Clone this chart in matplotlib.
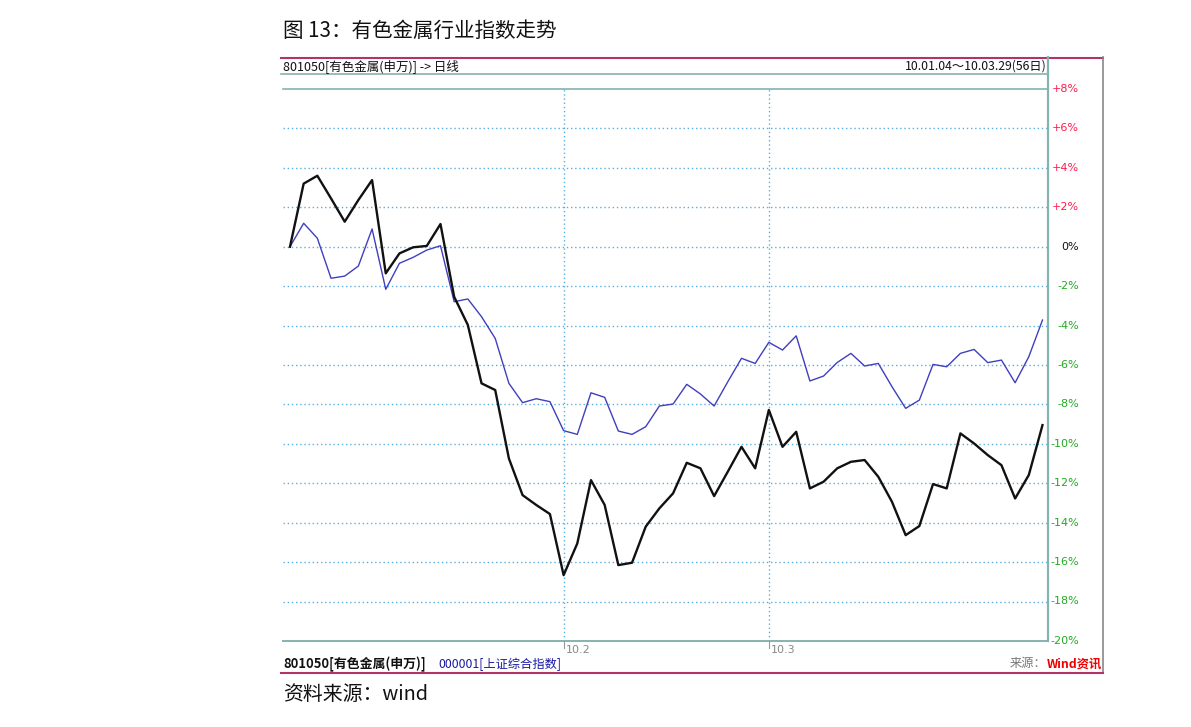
import matplotlib
matplotlib.use("Agg")
import matplotlib.pyplot as plt
from matplotlib.lines import Line2D
import numpy as np

plt.rcParams['font.family'] = ['Noto Sans CJK SC', 'DejaVu Sans']

W, H = 1191, 727

# Data: daily cumulative % change, 2010-01-04 .. 2010-03-29 (56 trading days)
nonferrous = [0.0, 3.2, 3.6, 2.45, 1.27, 2.37, 3.38, -1.35, -0.34, -0.03,
              0.04, 1.15, -2.54, -3.97, -6.93, -7.27, -10.74, -12.6, -13.1, -13.56,
              -16.66, -15.05, -11.84, -13.1, -16.15, -16.03, -14.2, -13.27, -12.51, -10.96,
              -11.24, -12.65, -11.41, -10.15, -11.24, -8.28, -10.15, -9.39, -12.26, -11.92,
              -11.24, -10.91, -10.82, -11.67, -12.94, -14.63, -14.17, -12.04, -12.26, -9.47,
              -9.98, -10.57, -11.08, -12.77, -11.58, -9.05]
shanghai = [0.0, 1.19, 0.43, -1.6, -1.49, -0.98, 0.9, -2.16, -0.84, -0.54,
            -0.17, 0.05, -2.79, -2.65, -3.55, -4.65, -6.93, -7.91, -7.71, -7.86,
            -9.33, -9.52, -7.41, -7.64, -9.35, -9.52, -9.13, -8.08, -7.98, -6.98,
            -7.47, -8.08, -6.85, -5.66, -5.92, -4.85, -5.24, -4.52, -6.81, -6.56,
            -5.87, -5.41, -6.05, -5.92, -7.1, -8.2, -7.78, -5.97, -6.09, -5.41,
            -5.21, -5.88, -5.75, -6.9, -5.58, -3.72]
month_ticks = [20, 35]
month_labels = ['10.2', '10.3']
y_ticks = list(range(8, -21, -2))

def fx(px):
    return px / W

def fy(py):
    return 1 - py / H

fig = plt.figure(figsize=(W / 100, H / 100), dpi=100)

# plot area
L, R, T, B = 283, 1047, 89, 641
ax = fig.add_axes([fx(L), fy(B), fx(R) - fx(L), fy(T) - fy(B)])
x = np.arange(len(nonferrous))
ax.set_xlim(-0.51, 55.33)
ax.set_ylim(-20, 8)
for s in ax.spines.values():
    s.set_visible(False)
ax.set_xticks([])
ax.set_yticks([])

grid_c = '#5aaee0'
for v in y_ticks[1:-1]:
    ax.axhline(v, color=grid_c, lw=1.0, ls=(0, (1, 2)), zorder=1)
for m in month_ticks:
    ax.axvline(m, color=grid_c, lw=1.0, ls=(0, (1, 2)), zorder=1)

ax.plot(x, shanghai, color='#3f3fc0', lw=1.0, zorder=3)
ax.plot(x, nonferrous, color='#111111', lw=1.7, zorder=4)

frame_c = '#86b2b2'
pink = '#b0336a'

def hline(y, x0, x1, c, lw=1.2):
    fig.add_artist(Line2D([fx(x0), fx(x1)], [fy(y), fy(y)], color=c, lw=lw))

def vline(xp, y0, y1, c, lw=1.2):
    fig.add_artist(Line2D([fx(xp), fx(xp)], [fy(y0), fy(y1)], color=c, lw=lw))

hline(57.5, 281, 1103, pink, 1.5)
hline(74, 281, 1047, frame_c, 1.2)
hline(89, 283, 1047, frame_c, 1.2)
hline(640.5, 283, 1047, frame_c, 1.4)
vline(1048, 57, 641, frame_c, 1.6)
vline(1103, 57, 673, '#888888', 1.2)
hline(672.5, 281, 1103, pink, 1.5)

# x tick marks and labels
for m, lab in zip(month_ticks, month_labels):
    xp = 290 + 13.675 * m
    vline(xp, 641, 648, '#999999', 0.8)
    fig.text(fx(xp + 2), fy(650), lab, fontsize=8, color='#888888',
             family=['DejaVu Sans'], ha='left', va='center')

# y tick labels
for v in y_ticks:
    yp = 246.7 - v * 19.71
    if v > 0:
        txt, c = f'+{v}%', '#ff1a4a'
    elif v == 0:
        txt, c = '0%', '#111111'
    else:
        txt, c = f'{v}%', '#22aa22'
    fig.text(fx(1079), fy(yp), txt, fontsize=8, color=c, family=['DejaVu Sans'],
             ha='right', va='center')

# title and header texts
fig.text(fx(283), fy(31), '图 13：有色金属行业指数走势', fontsize=14.8, color='#111111',
         ha='left', va='center')
fig.text(fx(283), fy(66), '801050[有色金属(申万)] -> 日线', fontsize=9, color='#111111',
         ha='left', va='center')
fig.text(fx(1047), fy(66), '10.01.04～10.03.29(56日)', fontsize=8.8, color='#111111',
         ha='right', va='center')

# bottom legend
fig.text(fx(283), fy(664), '801050[有色金属(申万)]', fontsize=9.3, color='#111111',
         fontweight='bold', ha='left', va='center')
fig.text(fx(438), fy(664), '000001[上证综合指数]', fontsize=8.8, color='#1a1aa0',
         ha='left', va='center')
fig.text(fx(1046), fy(664), '来源：', fontsize=8.8, color='#777777', ha='right', va='center')
fig.text(fx(1102), fy(664), 'Wind资讯', fontsize=8.8, color='#ee0000', fontweight='bold',
         ha='right', va='center')

fig.text(fx(283), fy(695), '资料来源：wind', fontsize=14.3, color='#111111',
         ha='left', va='center')

fig.savefig('out.png', dpi=100)
